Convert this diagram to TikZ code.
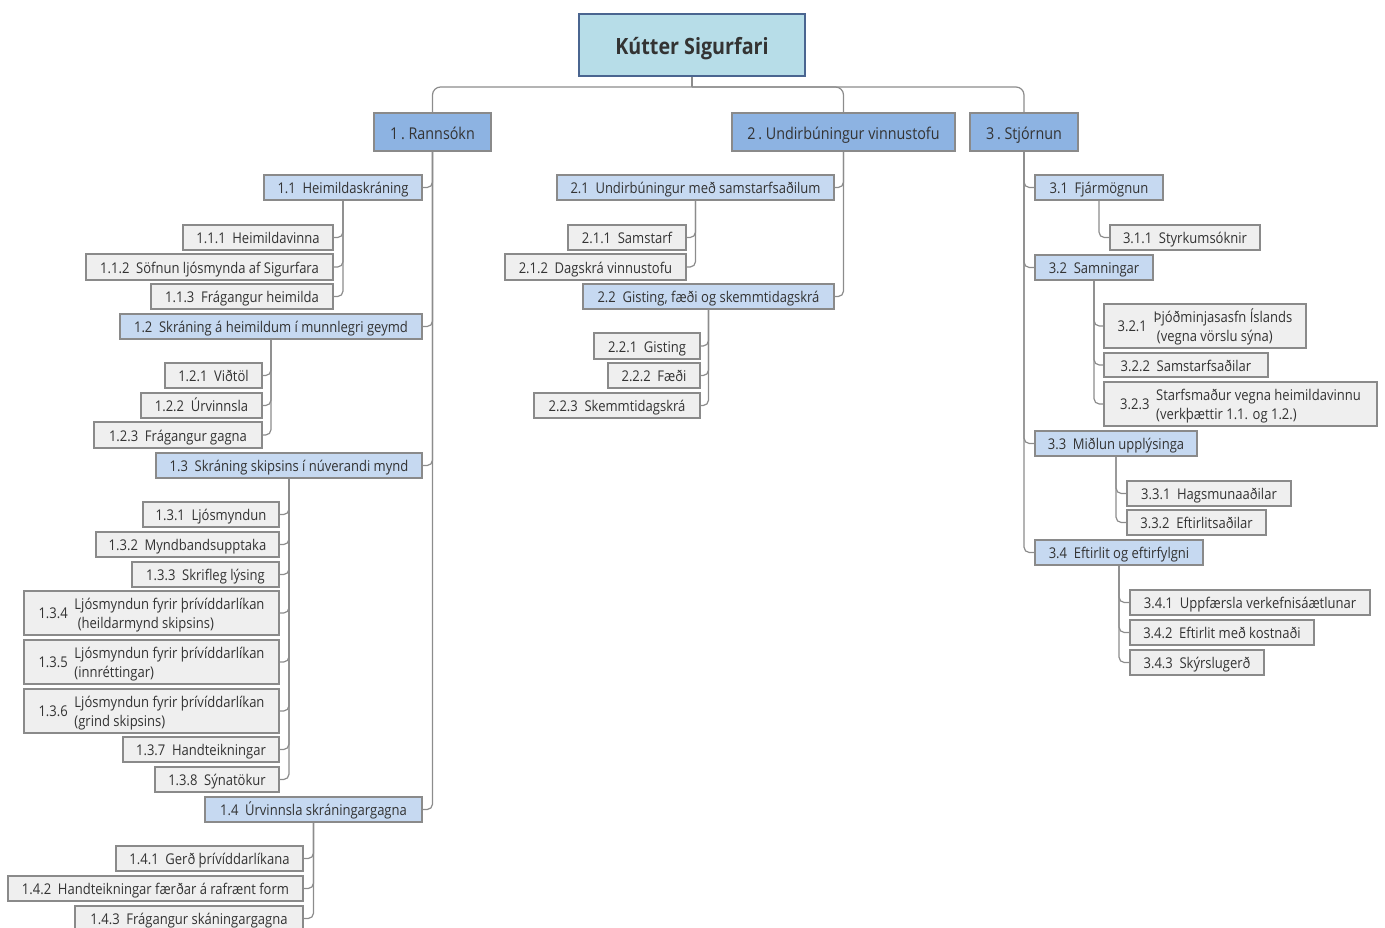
\documentclass[tikz,border=0pt]{standalone}
\usepackage{fontspec}
\setmainfont{Open Sans}[FakeStretch=0.88]
\definecolor{rootfill}{HTML}{B7DDE8}
\definecolor{rootdraw}{HTML}{4A6590}
\definecolor{onefill}{HTML}{8DB3E2}
\definecolor{twofill}{HTML}{C6D9F1}
\definecolor{leaffill}{HTML}{EFEFEF}
\definecolor{boxdraw}{HTML}{8A8A8A}
\definecolor{txt}{HTML}{333333}
\definecolor{linec}{HTML}{8C8C8C}
\tikzset{
  basebox/.style={draw=boxdraw, line width=0.9pt, inner sep=0pt, text=txt, align=center},
  rootbox/.style={basebox, fill=rootfill, draw=rootdraw, font=\fontsize{16.8}{19}\selectfont\bfseries, text height=13.5pt, text depth=0pt},
  lone/.style={basebox, fill=onefill, font=\fontsize{12.2}{14}\selectfont, text height=10.5pt, text depth=0pt},
  ltwo/.style={basebox, fill=twofill, font=\fontsize{11.1}{14}\selectfont, text height=9.4pt, text depth=0pt},
  leaf/.style={basebox, fill=leaffill, font=\fontsize{11.1}{14}\selectfont, text height=9.4pt, text depth=0pt},
  leaftwo/.style={basebox, fill=leaffill, font=\fontsize{11.1}{14}\selectfont},
  conn/.style={draw=linec, line width=0.9pt, rounded corners=4pt},
}
\newcommand\mybox[7]{%
  \pgfmathsetmacro\cx{(#3+#5)/2}\pgfmathsetmacro\cy{(#4+#6)/2}%
  \pgfmathsetmacro\bw{(#5-#3)*0.75}\pgfmathsetmacro\bh{(#6-#4)*0.75}%
  \node[#2, minimum width=\bw pt, minimum height=\bh pt] (#1) at (\cx,\cy) {#7};}
\newcommand\gap{\hspace{0.45em}}
\newcommand\two[3]{\raisebox{-1.6pt}[\height][\depth]{\begin{tabular}{@{}l@{\hspace{5pt}}l@{}}#1 & \begin{tabular}[c]{@{}l@{}}#2\\#3\end{tabular}\end{tabular}}}
\begin{document}
\begin{tikzpicture}[x=0.75pt,y=-0.75pt]
\useasboundingbox (0,0) rectangle (1385,928);
% root and level 1
\mybox{root}{rootbox}{579}{14}{805}{76}{Kútter Sigurfari}
\mybox{r1}{lone}{374}{113}{491}{151}{1\,.\ Rannsókn}
\mybox{r2}{lone}{732}{113}{955}{151}{2\,.\ Undirbúningur vinnustofu}
\mybox{r3}{lone}{970}{113}{1078}{151}{3\,.\ Stjórnun}
% branch 1
\mybox{a1}{ltwo}{264}{175}{422}{200}{1.1\gap Heimildaskráning}
\mybox{a2}{ltwo}{120}{314}{422}{339}{1.2\gap Skráning á heimildum í munnlegri geymd}
\mybox{a3}{ltwo}{156}{453}{422}{478}{1.3\gap Skráning skipsins í núverandi mynd}
\mybox{a4}{ltwo}{205}{797}{422}{822}{1.4\gap Úrvinnsla skráningargagna}
\mybox{a11}{leaf}{183}{225}{333}{250}{1.1.1\gap Heimildavinna}
\mybox{a12}{leaf}{86}{254}{333}{280}{1.1.2\gap Söfnun ljósmynda af Sigurfara}
\mybox{a13}{leaf}{151}{284}{333}{309}{1.1.3\gap Frágangur heimilda}
\mybox{a21}{leaf}{165}{363}{262}{388}{1.2.1\gap Viðtöl}
\mybox{a22}{leaf}{141}{393}{262}{418}{1.2.2\gap Úrvinnsla}
\mybox{a23}{leaf}{94}{422}{262}{448}{1.2.3\gap Frágangur gagna}
\mybox{a31}{leaf}{143}{502}{279}{527}{1.3.1\gap Ljósmyndun}
\mybox{a32}{leaf}{96}{532}{279}{557}{1.3.2\gap Myndbandsupptaka}
\mybox{a33}{leaf}{132}{562}{279}{587}{1.3.3\gap Skrifleg lýsing}
\mybox{a34}{leaftwo}{24}{591}{279}{635}{\two{1.3.4}{Ljósmyndun fyrir þrívíddarlíkan}{\ (heildarmynd skipsins)}}
\mybox{a35}{leaftwo}{24}{640}{279}{684}{\two{1.3.5}{Ljósmyndun fyrir þrívíddarlíkan}{(innréttingar)}}
\mybox{a36}{leaftwo}{24}{689}{279}{733}{\two{1.3.6}{Ljósmyndun fyrir þrívíddarlíkan}{(grind skipsins)}}
\mybox{a37}{leaf}{123}{737}{279}{762}{1.3.7\gap Handteikningar}
\mybox{a38}{leaf}{155}{767}{279}{792}{1.3.8\gap Sýnatökur}
\mybox{a41}{leaf}{116}{846}{303}{871}{1.4.1\gap Gerð þrívíddarlíkana}
\mybox{a42}{leaf}{8}{876}{303}{901}{1.4.2\gap Handteikningar færðar á rafrænt form}
\mybox{a43}{leaf}{75}{906}{303}{931}{1.4.3\gap Frágangur skáningargagna}
% branch 2
\mybox{b1}{ltwo}{557}{175}{834}{200}{2.1\gap Undirbúningur með samstarfsaðilum}
\mybox{b2}{ltwo}{583}{284}{834}{309}{2.2\gap Gisting, fæði og skemmtidagskrá}
\mybox{b11}{leaf}{568}{225}{686}{250}{2.1.1\gap Samstarf}
\mybox{b12}{leaf}{505}{254}{686}{280}{2.1.2\gap Dagskrá vinnustofu}
\mybox{b21}{leaf}{594}{333}{700}{359}{2.2.1\gap Gisting}
\mybox{b22}{leaf}{608}{363}{700}{388}{2.2.2\gap Fæði}
\mybox{b23}{leaf}{534}{393}{700}{418}{2.2.3\gap Skemmtidagskrá}
% branch 3
\mybox{c1}{ltwo}{1035}{175}{1163}{200}{3.1\gap Fjármögnun}
\mybox{c2}{ltwo}{1035}{255}{1153}{280}{3.2\gap Samningar}
\mybox{c3}{ltwo}{1035}{431}{1197}{456}{3.3\gap Miðlun upplýsinga}
\mybox{c4}{ltwo}{1035}{540}{1203}{565}{3.4\gap Eftirlit og eftirfylgni}
\mybox{c11}{leaf}{1110}{225}{1260}{250}{3.1.1\gap Styrkumsóknir}
\mybox{c21}{leaftwo}{1104}{304}{1306}{348}{\two{3.2.1}{Þjóðminjasasfn Íslands}{\ (vegna vörslu sýna)}}
\mybox{c22}{leaf}{1104}{353}{1268}{377}{3.2.2\gap Samstarfsaðilar}
\mybox{c23}{leaftwo}{1104}{382}{1377}{426}{\two{3.2.3}{Starfsmaður vegna heimildavinnu}{(verkþættir 1.1. og 1.2.)}}
\mybox{c31}{leaf}{1127}{481}{1291}{506}{3.3.1\gap Hagsmunaaðilar}
\mybox{c32}{leaf}{1127}{510}{1266}{535}{3.3.2\gap Eftirlitsaðilar}
\mybox{c41}{leaf}{1130}{590}{1370}{615}{3.4.1\gap Uppfærsla verkefnisáætlunar}
\mybox{c42}{leaf}{1130}{620}{1314}{645}{3.4.2\gap Eftirlit með kostnaði}
\mybox{c43}{leaf}{1130}{650}{1264}{675}{3.4.3\gap Skýrslugerð}
% connectors
\draw[conn] (root.south) -- (692,87) coordinate (j);
\foreach \n in {r1,r2,r3} \draw[conn, rounded corners=6pt] (j) -| (\n.north);
\foreach \n in {a1,a2,a3,a4} \draw[conn] (r1.south) |- (\n.east);
\foreach \n in {b1,b2} \draw[conn] (r2.south) |- (\n.east);
\foreach \n in {c1,c2,c3,c4} \draw[conn] (r3.south) |- (\n.west);
\foreach \n in {a11,a12,a13} \draw[conn] (a1.south) |- (\n.east);
\foreach \n in {a21,a22,a23} \draw[conn] (a2.south) |- (\n.east);
\foreach \n in {a31,a32,a33,a34,a35,a36,a37,a38} \draw[conn] (a3.south) |- (\n.east);
\foreach \n in {a41,a42,a43} \draw[conn] (a4.south) |- (\n.east);
\foreach \n in {b11,b12} \draw[conn] (b1.south) |- (\n.east);
\foreach \n in {b21,b22,b23} \draw[conn] (b2.south) |- (\n.east);
\draw[conn] (c1.south) |- (c11.west);
\foreach \n in {c21,c22,c23} \draw[conn] (c2.south) |- (\n.west);
\foreach \n in {c31,c32} \draw[conn] (c3.south) |- (\n.west);
\foreach \n in {c41,c42,c43} \draw[conn] (c4.south) |- (\n.west);
\end{tikzpicture}
\end{document}
